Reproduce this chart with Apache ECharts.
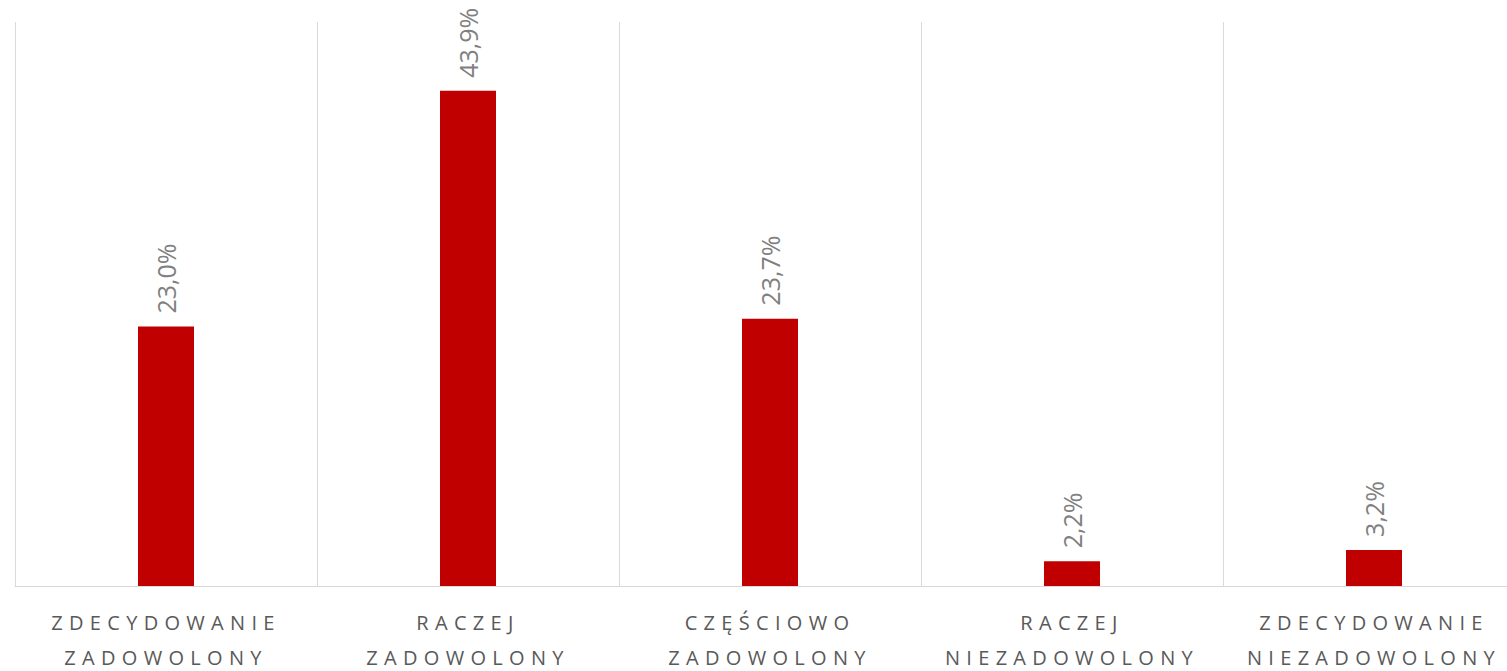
<!DOCTYPE html>
<html><head><meta charset="utf-8">
<script src="https://cdn.jsdelivr.net/npm/echarts@6/dist/echarts.min.js"></script>
<style>
html,body{margin:0;padding:0;background:#fff;}
#c{width:1507px;height:671px;}
#c svg text[fill="#595959"], #c svg text[style*="595959"]{letter-spacing:6.3px;}
</style>
</head><body>
<div id="c"></div>
<script>
const categories = ["ZDECYDOWANIE\nZADOWOLONY","RACZEJ\nZADOWOLONY","CZĘŚCIOWO\nZADOWOLONY","RACZEJ\nNIEZADOWOLONY","ZDECYDOWANIE\nNIEZADOWOLONY"];
const values = [23.0, 43.9, 23.7, 2.2, 3.2];

const chart = echarts.init(document.getElementById('c'), null, {renderer:'svg'});
chart.setOption({
  animation:false,
  grid:{left:15, top:22, width:1510, height:564, containLabel:false, outerBoundsMode:'none'},
  xAxis:{
    type:'category', data:categories,
    axisLine:{lineStyle:{color:'#d9d9d9', width:1}},
    axisTick:{show:false},
    splitLine:{show:true, lineStyle:{color:'#d9d9d9', width:1}},
    axisLabel:{color:'#595959', fontFamily:'Open Sans', fontSize:20, lineHeight:35, margin:19, interval:0}
  },
  yAxis:{type:'value', min:0, max:50, show:false, splitLine:{show:false}},
  series:[{
    type:'bar', data:values, barWidth:56,
    itemStyle:{color:'#c00000'},
    label:{show:true, position:'top', rotate:90, align:'left', verticalAlign:'middle', distance:13,
      color:'#808080', fontFamily:'Open Sans', fontSize:25,
      formatter:p=>p.value.toFixed(1).replace('.',',')+'%'}
  }]
});
</script>
</body></html>
